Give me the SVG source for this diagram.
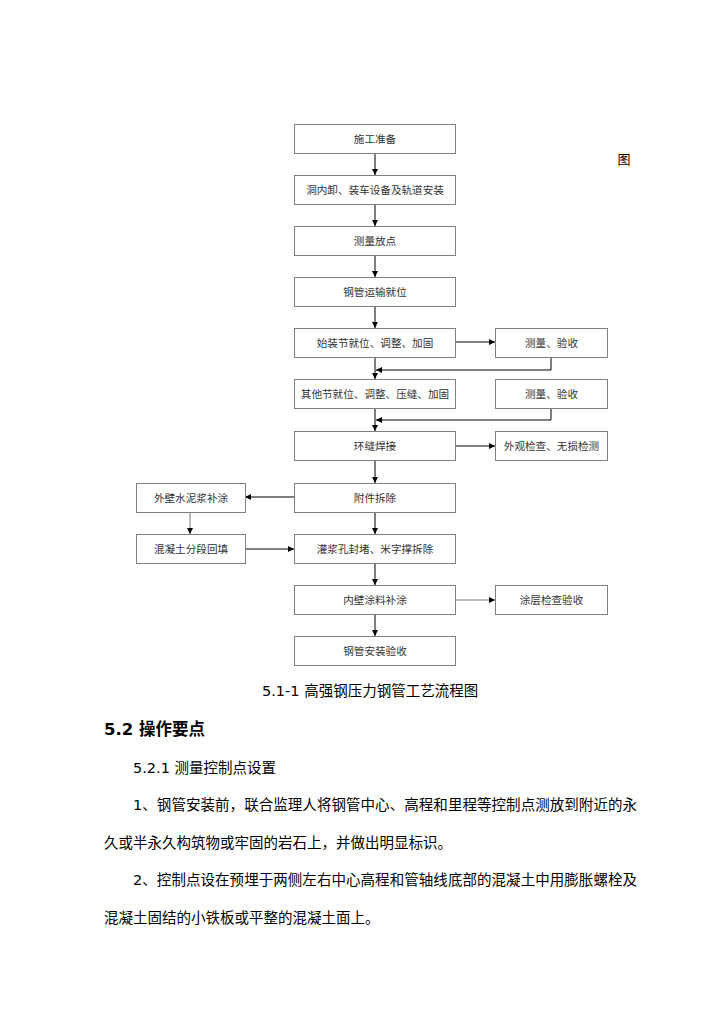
<svg xmlns="http://www.w3.org/2000/svg" width="724" height="1024" viewBox="0 0 724 1024">
<style>
.box{fill:#fff;stroke:#808080;stroke-width:1}
.bt{font-family:"DejaVu Sans","Noto Sans CJK SC",sans-serif;font-size:10.6px;fill:#333;text-anchor:middle}
.ln{stroke:#000;stroke-width:1;fill:none}
.lg{stroke:#555;stroke-width:0.8;fill:none}
.tx{font-family:"DejaVu Sans","Noto Sans CJK SC",sans-serif;font-size:14.5px;fill:#000}
.hd{font-family:"DejaVu Sans","Noto Sans CJK SC",sans-serif;font-size:16.5px;font-weight:bold;fill:#000}
</style>
<defs>
<marker id="ah" viewBox="0 0 10 10" refX="10" refY="5" markerWidth="6" markerHeight="6" markerUnits="userSpaceOnUse" orient="auto">
<path d="M0,0 L10,5 L0,10 z" fill="#000"/>
</marker>
</defs>
<rect width="724" height="1024" fill="#fff"/>
<text x="624" y="164" style="font-family:'Noto Sans CJK SC',sans-serif;font-size:13px;fill:#000" text-anchor="middle">图</text>

<g id="connectors">
<line class="ln" x1="375" y1="153" x2="375" y2="175" marker-end="url(#ah)"/>
<line class="ln" x1="375" y1="204" x2="375" y2="226" marker-end="url(#ah)"/>
<line class="ln" x1="375" y1="255" x2="375" y2="277" marker-end="url(#ah)"/>
<line class="ln" x1="375" y1="306" x2="375" y2="328" marker-end="url(#ah)"/>
<line class="ln" x1="375" y1="357" x2="375" y2="379" marker-end="url(#ah)"/>
<line class="ln" x1="375" y1="408" x2="375" y2="431" marker-end="url(#ah)"/>
<line class="ln" x1="375" y1="460" x2="375" y2="483" marker-end="url(#ah)"/>
<line class="ln" x1="375" y1="512" x2="375" y2="534" marker-end="url(#ah)"/>
<line class="ln" x1="375" y1="563" x2="375" y2="585" marker-end="url(#ah)"/>
<line class="ln" x1="375" y1="614" x2="375" y2="636" marker-end="url(#ah)"/>
<line class="ln" x1="455" y1="342" x2="495" y2="342" marker-end="url(#ah)"/>
<polyline class="ln" points="551,357 551,370 376,370" marker-end="url(#ah)"/>
<polyline class="ln" points="551,408 551,420 376,420" marker-end="url(#ah)"/>
<line class="ln" x1="455" y1="446" x2="495" y2="446" marker-end="url(#ah)"/>
<line class="ln" x1="294" y1="497" x2="245" y2="497" marker-end="url(#ah)"/>
<line class="lg" x1="190" y1="512" x2="190" y2="534" marker-end="url(#ah)"/>
<line class="ln" x1="245" y1="549" x2="294" y2="549" marker-end="url(#ah)"/>
<line class="lg" x1="455" y1="600" x2="495" y2="600" marker-end="url(#ah)"/>
</g>

<g id="n1"><rect class="box" x="294.5" y="124.5" width="161" height="29"/><text class="bt" x="375" y="142.5">施工准备</text></g>
<g id="n2"><rect class="box" x="294.5" y="175.5" width="161" height="29"/><text class="bt" x="375" y="193.5">洞内卸、装车设备及轨道安装</text></g>
<g id="n3"><rect class="box" x="294.5" y="226.5" width="161" height="29"/><text class="bt" x="375" y="244.5">测量放点</text></g>
<g id="n4"><rect class="box" x="294.5" y="277.5" width="161" height="29"/><text class="bt" x="375" y="295.5">钢管运输就位</text></g>
<g id="n5"><rect class="box" x="294.5" y="328.5" width="161" height="29"/><text class="bt" x="375" y="346.5">始装节就位、调整、加固</text></g>
<g id="n6"><rect class="box" x="294.5" y="379.5" width="161" height="29"/><text class="bt" x="375" y="397.5">其他节就位、调整、压缝、加固</text></g>
<g id="n7"><rect class="box" x="294.5" y="431.5" width="161" height="29"/><text class="bt" x="375" y="449.5">环缝焊接</text></g>
<g id="n8"><rect class="box" x="294.5" y="483.5" width="161" height="29"/><text class="bt" x="375" y="501.5">附件拆除</text></g>
<g id="n9"><rect class="box" x="294.5" y="534.5" width="161" height="29"/><text class="bt" x="375" y="552.5">灌浆孔封堵、米字撑拆除</text></g>
<g id="n10"><rect class="box" x="294.5" y="585.5" width="161" height="29"/><text class="bt" x="375" y="603.5">内壁涂料补涂</text></g>
<g id="n11"><rect class="box" x="294.5" y="636.5" width="161" height="29"/><text class="bt" x="375" y="654.5">钢管安装验收</text></g>
<g id="r1"><rect class="box" x="495.5" y="328.5" width="112" height="29"/><text class="bt" x="551.5" y="346.5">测量、验收</text></g>
<g id="r2"><rect class="box" x="495.5" y="379.5" width="112" height="29"/><text class="bt" x="551.5" y="397.5">测量、验收</text></g>
<g id="r3"><rect class="box" x="495.5" y="431.5" width="112" height="29"/><text class="bt" x="551.5" y="449.5">外观检查、无损检测</text></g>
<g id="r4"><rect class="box" x="495.5" y="585.5" width="112" height="29"/><text class="bt" x="551.5" y="603.5">涂层检查验收</text></g>
<g id="l1"><rect class="box" x="136.5" y="483.5" width="109" height="29"/><text class="bt" x="191" y="501.5">外壁水泥浆补涂</text></g>
<g id="l2"><rect class="box" x="136.5" y="534.5" width="109" height="29"/><text class="bt" x="191" y="552.5">混凝土分段回填</text></g>

<text class="tx" x="262" y="696">5.1-1 高强钢压力钢管工艺流程图</text>
<text class="hd" x="104" y="735">5.2 操作要点</text>
<text class="tx" x="133" y="773">5.2.1 测量控制点设置</text>
<text class="tx" x="133" y="810" textLength="504" lengthAdjust="spacing">1、钢管安装前，联合监理人将钢管中心、高程和里程等控制点测放到附近的永</text>
<text class="tx" x="104" y="848">久或半永久构筑物或牢固的岩石上，并做出明显标识。</text>
<text class="tx" x="133" y="885" textLength="504" lengthAdjust="spacing">2、控制点设在预埋于两侧左右中心高程和管轴线底部的混凝土中用膨胀螺栓及</text>
<text class="tx" x="104" y="923">混凝土固结的小铁板或平整的混凝土面上。</text>
</svg>
